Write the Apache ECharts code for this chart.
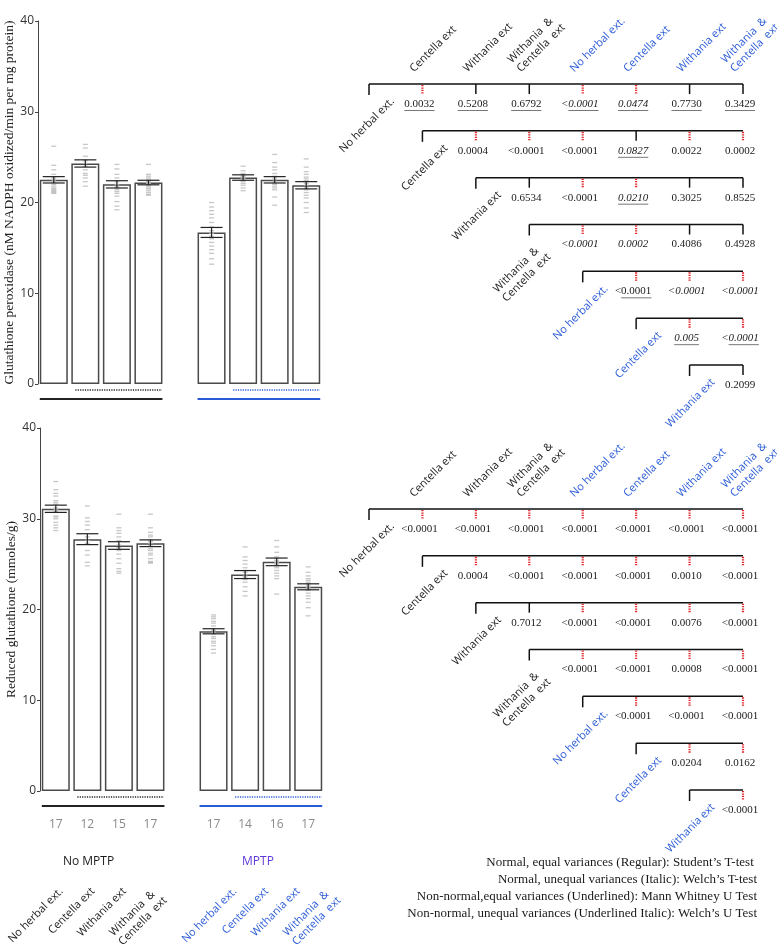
<!doctype html>
<html>
<head>
<meta charset="utf-8">
<title>Glutathione</title>
<script src="https://cdn.jsdelivr.net/npm/echarts@6.0.0/dist/echarts.min.js"></script>
<style>
  html, body { margin: 0; padding: 0; background: #fff; }
  #chart { width: 777px; height: 944px; }
</style>
</head>
<body>
<div id="chart"></div>
<script>
// 9 slots on the x axis, slot 4 is the gap between No MPTP and MPTP
var slots = ['s0', 's1', 's2', 's3', 'gap', 's5', 's6', 's7', 's8'];
var groupNames = ['No herbal ext.', 'Centella ext', 'Withania ext', 'Withania  &\nCentella  ext'];
var nCounts = ['17', '12', '15', '17', '', '17', '14', '16', '17'];
var yTicks = [0, 10, 20, 30, 40];

// glutathione peroxidase
var gpxMean = [22.5, 24.3, 22.0, 22.2, '-', 16.7, 22.75, 22.5, 21.9];
var gpxSem = [0.35, 0.4, 0.4, 0.25, '-', 0.55, 0.3, 0.35, 0.4];
var gpxPts = [
  [26.2, 24.1, 23.6, 23.1, 22.8, 22.6, 22.4, 22.2, 22.0, 21.8, 21.6, 21.5, 21.4, 21.3, 21.2, 21.1, 21.0],
  [26.4, 26.0, 25.1, 24.6, 24.3, 24.0, 23.6, 23.2, 23.0, 22.7, 22.3, 21.8],
  [24.2, 23.7, 23.1, 22.7, 22.3, 22.0, 21.8, 21.6, 21.4, 21.2, 21.0, 20.7, 20.1, 19.6, 19.2],
  [24.2, 23.1, 22.9, 22.7, 22.5, 22.3, 22.2, 22.1, 22.0, 21.9, 21.8, 21.6, 21.5, 21.3, 21.1, 20.9, 20.8],
  [],
  [20.0, 19.5, 19.1, 18.7, 18.3, 17.8, 17.3, 16.9, 16.6, 16.3, 16.0, 15.6, 15.2, 14.8, 14.4, 13.8, 13.2],
  [24.0, 23.5, 23.2, 23.0, 22.9, 22.8, 22.7, 22.6, 22.4, 22.3, 22.1, 21.9, 21.6, 21.3],
  [25.3, 24.4, 23.9, 23.6, 23.2, 22.9, 22.7, 22.5, 22.3, 22.1, 22.0, 21.8, 21.6, 21.4, 20.6, 19.7],
  [24.8, 23.9, 23.4, 23.1, 22.8, 22.6, 22.4, 22.1, 21.9, 21.6, 21.4, 21.1, 20.8, 20.5, 20.0, 19.4, 18.9]
];

// reduced glutathione
var gshMean = [31.1, 27.75, 27.05, 27.3, '-', 17.6, 23.85, 25.25, 22.5];
var gshSem = [0.4, 0.6, 0.42, 0.37, '-', 0.28, 0.44, 0.42, 0.33];
var gshPts = [
  [34.1, 33.2, 32.8, 32.5, 32.0, 31.8, 31.6, 31.2, 31.0, 30.8, 30.3, 30.2, 30.0, 29.6, 29.3, 29.0, 28.7],
  [31.4, 30.1, 29.7, 29.3, 28.8, 28.0, 27.6, 27.3, 26.5, 26.0, 25.2, 24.8],
  [30.5, 29.0, 28.7, 28.4, 28.0, 27.6, 27.1, 26.8, 26.5, 26.1, 25.6, 25.1, 24.5, 24.2, 24.0],
  [30.5, 29.0, 28.5, 28.2, 28.0, 27.7, 27.5, 27.3, 27.0, 26.7, 26.5, 26.2, 26.0, 25.6, 25.3, 25.2, 25.1],
  [],
  [19.4, 19.2, 19.0, 18.7, 18.5, 18.2, 17.9, 17.7, 17.5, 17.3, 17.0, 16.8, 16.5, 16.3, 16.0, 15.6, 15.2],
  [26.9, 25.8, 25.4, 25.0, 24.6, 24.3, 24.1, 23.8, 23.6, 23.3, 23.0, 22.5, 22.0, 21.5],
  [27.6, 26.9, 26.3, 25.8, 25.6, 25.4, 25.2, 25.1, 25.0, 24.8, 24.6, 24.3, 24.0, 23.7, 23.4, 21.7],
  [24.7, 24.1, 23.7, 23.4, 23.2, 23.0, 22.8, 22.6, 22.4, 22.3, 22.1, 21.8, 21.5, 21.2, 20.8, 20.2, 19.3]
];

// group spans under the axis [fromSlot, toSlot, group]
var solidSpans = [[0, 3, 0], [5, 8, 1]];
var dotSpans = [[1, 3, 0], [6, 8, 1]];

// comparison matrices: row r against columns r+1..7
var matLabels = groupNames.concat(groupNames);
var gpxP = [
  ['0.0032', '0.5208', '0.6792', '<0.0001', '0.0474', '0.7730', '0.3429'],
  ['0.0004', '<0.0001', '<0.0001', '0.0827', '0.0022', '0.0002'],
  ['0.6534', '<0.0001', '0.0210', '0.3025', '0.8525'],
  ['<0.0001', '0.0002', '0.4086', '0.4928'],
  ['<0.0001', '<0.0001', '<0.0001'],
  ['0.005', '<0.0001'],
  ['0.2099']
];
var gpxTest = [
  ['U', 'U', 'U', 'UI', 'UI', 'U', 'U'],
  ['R', 'R', 'R', 'UI', 'R', 'R'],
  ['R', 'R', 'UI', 'R', 'R'],
  ['I', 'I', 'R', 'R'],
  ['U', 'I', 'I'],
  ['UI', 'UI'],
  ['R']
];
var gpxSig = [
  [1, 0, 0, 1, 1, 0, 0],
  [1, 1, 1, 0, 1, 1],
  [0, 1, 1, 0, 0],
  [1, 1, 0, 0],
  [1, 1, 1],
  [1, 1],
  [0]
];
var gshP = [
  ['<0.0001', '<0.0001', '<0.0001', '<0.0001', '<0.0001', '<0.0001', '<0.0001'],
  ['0.0004', '<0.0001', '<0.0001', '<0.0001', '0.0010', '<0.0001'],
  ['0.7012', '<0.0001', '<0.0001', '0.0076', '<0.0001'],
  ['<0.0001', '<0.0001', '0.0008', '<0.0001'],
  ['<0.0001', '<0.0001', '<0.0001'],
  ['0.0204', '0.0162'],
  ['<0.0001']
];
var gshTest = gshP.map(function (row) { return row.map(function () { return 'R'; }); });
var gshSig = [
  [1, 1, 1, 1, 1, 1, 1],
  [1, 1, 1, 1, 1, 1],
  [0, 1, 1, 1, 1],
  [1, 1, 1, 1],
  [1, 1, 1],
  [1, 1],
  [1]
];

var legendLines = [
  'Normal, equal variances (Regular): Student\u2019s T-test ',
  'Normal, unequal variances (Italic): Welch\u2019s T-test',
  'Non-normal,equal variances (Underlined): Mann Whitney U Test',
  'Non-normal, unequal variances (Underlined Italic): Welch\u2019s U Test'
];

var BLACK = '#1a1a1a', BLUE = '#2a5bd7', RED = '#e0262b', PURPLE = '#5e38d8';
var SANS = '"Open Sans", "DejaVu Sans", sans-serif';
var SERIF = '"Liberation Serif", "Times New Roman", serif';
var LABEL_FONT = '11px ' + SANS;
var C45 = Math.SQRT1_2;

var mctx = document.createElement('canvas').getContext('2d');
function textW(s, font) { mctx.font = font; return mctx.measureText(s).width; }
function maxLineW(s, font) {
  return Math.max.apply(null, s.split('\n').map(function (l) { return textW(l, font); }));
}
function txt(x, y, text, font, fill, align, valign, rot) {
  return {
    type: 'text', x: x, y: y, rotation: rot || 0,
    style: { text: text, font: font, fill: fill, align: align, textAlign: align,
             verticalAlign: valign, textVerticalAlign: valign, lineHeight: 13 }
  };
}
// rotated label whose top-right end sits at (tx, ty)
function rotLabelFromTip(tx, ty, text, color) {
  var w = maxLineW(text, LABEL_FONT);
  return txt(tx - w * C45, ty + w * C45, text, LABEL_FONT, color, 'left', 'top', Math.PI / 4);
}

function errRender(params, api) {
  var x = api.value(0), m = api.value(1), s = api.value(2);
  var a = api.coord([x, m + s]), b = api.coord([x, m - s]);
  var st = { stroke: '#222', lineWidth: 1.2 };
  return { type: 'group', children: [
    { type: 'line', shape: { x1: a[0], y1: a[1], x2: b[0], y2: b[1] }, style: st },
    { type: 'line', shape: { x1: a[0] - 11, y1: a[1], x2: a[0] + 11, y2: a[1] }, style: st },
    { type: 'line', shape: { x1: b[0] - 11, y1: b[1], x2: b[0] + 11, y2: b[1] }, style: st }
  ]};
}
function spanRender(dotted) {
  return function (params, api) {
    var a = api.coord([api.value(0), 0]), b = api.coord([api.value(1), 0]);
    var col = api.value(2) ? BLUE : '#222';
    var y = a[1] + (dotted ? 6 : 15);
    var x1 = a[0] - (dotted ? 10 : 14), x2 = b[0] + (dotted ? 13.5 : 14);
    return { type: 'line', shape: { x1: x1, y1: y, x2: x2, y2: y },
      style: dotted ? { stroke: col, lineWidth: 1.3, lineDash: [1.2, 1.2] } : { stroke: col, lineWidth: 2 } };
  };
}

function barSeries(xi, yi, mean, sem, pts) {
  var sc = [], eb = [];
  pts.forEach(function (arr, i) { arr.forEach(function (v) { sc.push([i, v]); }); });
  mean.forEach(function (m, i) { if (m !== '-') eb.push([i, m, sem[i]]); });
  var base = { xAxisIndex: xi, yAxisIndex: yi, silent: true };
  return [
    Object.assign({ type: 'bar', data: mean, barWidth: 28,
      itemStyle: { color: '#fff', borderColor: '#4a4a4a', borderWidth: 1.5 }, z: 2 }, base),
    Object.assign({ type: 'scatter', data: sc, symbol: 'rect', symbolSize: [5, 1.3],
      itemStyle: { color: '#b9b9b9' }, z: 3 }, base),
    Object.assign({ type: 'custom', data: eb, renderItem: errRender, z: 4 }, base),
    Object.assign({ type: 'custom', data: solidSpans, renderItem: spanRender(false), z: 4 }, base),
    Object.assign({ type: 'custom', data: dotSpans, renderItem: spanRender(true), z: 4 }, base)
  ];
}

function matrixSeries(xi, yi, P, T, S) {
  var base = { type: 'custom', xAxisIndex: xi, yAxisIndex: yi, silent: true };
  var rows = P.map(function (_, r) { return [r, r]; });
  var cells = [];
  P.forEach(function (row, r) { row.forEach(function (_, k) { cells.push([r + 1 + k, r, k]); }); });
  var heads = [];
  for (var c = 1; c < 8; c++) heads.push([c, 0]);
  return [
    Object.assign({ data: rows, renderItem: function (params, api) {
      var r = api.value(0);
      var a = api.coord([r, r]), b = api.coord([7, r]);
      var blk = { stroke: '#111', lineWidth: 1.5 };
      var ch = [
        { type: 'line', shape: { x1: a[0], y1: a[1], x2: b[0], y2: b[1] }, style: blk },
        { type: 'line', shape: { x1: a[0], y1: a[1], x2: a[0], y2: a[1] + 11 }, style: blk }
      ];
      for (var c = r + 1; c < 8; c++) {
        var p = api.coord([c, r]);
        var sig = S[r][c - r - 1];
        ch.push({ type: 'line', shape: { x1: p[0], y1: p[1] + (sig ? 1 : 0), x2: p[0], y2: p[1] + 10 },
          style: sig ? { stroke: RED, lineWidth: 2.2, lineDash: [1.3, 1.1] } : blk });
      }
      // row label
      var t = matLabels[r];
      var multi = t.indexOf('\n') >= 0;
      ch.push(rotLabelFromTip(a[0] + (multi ? 6 : 19), a[1] + (multi ? 17 : 11), t, r >= 4 ? BLUE : BLACK));
      return { type: 'group', children: ch };
    }}, base),
    Object.assign({ data: cells, renderItem: function (params, api) {
      var c = api.value(0), r = api.value(1), k = api.value(2);
      var s = P[r][k], t = T[r][k];
      var font = (t === 'I' || t === 'UI' ? 'italic ' : '') + '11px ' + SERIF;
      var p = api.coord([c, r]);
      var cx = p[0] - 3, cy = p[1] + 20;
      var ch = [txt(cx, cy, s, font, BLACK, 'center', 'middle')];
      if (t === 'U' || t === 'UI') {
        var w = textW(s, font), pw = s.charAt(0) === '<' ? textW('<', font) : 0;
        ch.push({ type: 'line', shape: { x1: cx - w / 2 + pw, y1: cy + 6.5, x2: cx + w / 2, y2: cy + 6.5 },
          style: { stroke: '#555', lineWidth: 0.8 } });
      }
      return { type: 'group', children: ch };
    }}, base),
    Object.assign({ data: heads, renderItem: function (params, api) {
      var c = api.value(0);
      var p = api.coord([c, 0]);
      return txt(p[0] - 6, p[1] - 9, matLabels[c], LABEL_FONT, c >= 4 ? BLUE : BLACK, 'left', 'bottom', Math.PI / 4);
    }}, base)
  ];
}

var nameSlots = [];
slots.forEach(function (s, i) { if (i !== 4) nameSlots.push([i, 0]); });

var series = []
  .concat(barSeries(0, 0, gpxMean, gpxSem, gpxPts))
  .concat(barSeries(1, 1, gshMean, gshSem, gshPts))
  .concat(matrixSeries(3, 2, gpxP, gpxTest, gpxSig))
  .concat(matrixSeries(4, 3, gshP, gshTest, gshSig));

series.push({
  type: 'custom', xAxisIndex: 1, yAxisIndex: 1, silent: true, data: nameSlots,
  renderItem: function (params, api) {
    var i = api.value(0);
    var p = api.coord([i, 0]);
    var blue = i > 4;
    return rotLabelFromTip(p[0] + (blue ? 17 : 1), p[1] + 94, groupNames[blue ? i - 5 : i], blue ? BLUE : BLACK);
  }
});

function yAxisFor(gi, name) {
  return {
    type: 'value', gridIndex: gi, min: yTicks[0], max: yTicks[yTicks.length - 1], interval: 10,
    name: name, nameLocation: 'middle', nameRotate: 90, nameGap: 19,
    nameTextStyle: { fontFamily: SERIF, fontSize: 13.5, color: '#222' },
    axisLine: { show: true, lineStyle: { color: '#444', width: 1 } },
    axisTick: { show: true, length: 3, lineStyle: { color: '#444' } },
    axisLabel: { fontFamily: SANS, fontSize: 12, color: '#333', margin: 4 },
    splitLine: { show: false }
  };
}
var hiddenCat = function (gi) {
  return { type: 'category', gridIndex: gi, data: slots, show: false };
};

var graphic = legendLines.map(function (l, i) {
  return { type: 'text', x: 757, y: 863 + i * 16.8, silent: true,
    style: { text: l, font: '13px ' + SERIF, fill: '#1a1a1a', align: 'right', textAlign: 'right',
             verticalAlign: 'middle', textVerticalAlign: 'middle' } };
});
graphic.push({ type: 'text', x: 88.5, y: 862, silent: true,
  style: { text: 'No MPTP', font: '12px ' + SANS, fill: BLACK, align: 'center', textAlign: 'center',
           verticalAlign: 'middle', textVerticalAlign: 'middle' } });
graphic.push({ type: 'text', x: 258, y: 862, silent: true,
  style: { text: 'MPTP', font: '12px ' + SANS, fill: PURPLE, align: 'center', textAlign: 'center',
           verticalAlign: 'middle', textVerticalAlign: 'middle' } });

var option = {
  animation: false,
  backgroundColor: '#fff',
  grid: [
    { left: 38, top: 21, width: 284, height: 363 },
    { left: 40, top: 428, width: 284, height: 363 },
    { left: 369, top: 84, width: 374, height: 281 },
    { left: 369, top: 509, width: 374, height: 281 }
  ],
  xAxis: [
    hiddenCat(0),
    hiddenCat(1),
    { type: 'category', gridIndex: 1, data: nCounts, position: 'bottom', offset: 20,
      axisLine: { show: false }, axisTick: { show: false },
      axisLabel: { color: '#8a8a8a', fontFamily: SANS, fontSize: 12, margin: 8, interval: 0 } },
    { type: 'value', gridIndex: 2, min: 0, max: 7, show: false },
    { type: 'value', gridIndex: 3, min: 0, max: 7, show: false }
  ],
  yAxis: [
    yAxisFor(0, 'Glutathione peroxidase (nM NADPH oxidized/min per mg protein)'),
    yAxisFor(1, 'Reduced glutathione (mmoles/g)'),
    { type: 'value', gridIndex: 2, min: 0, max: 6, inverse: true, show: false },
    { type: 'value', gridIndex: 3, min: 0, max: 6, inverse: true, show: false }
  ],
  graphic: graphic,
  series: series
};

var chart = echarts.init(document.getElementById('chart'));
chart.setOption(option);
</script>
</body>
</html>
